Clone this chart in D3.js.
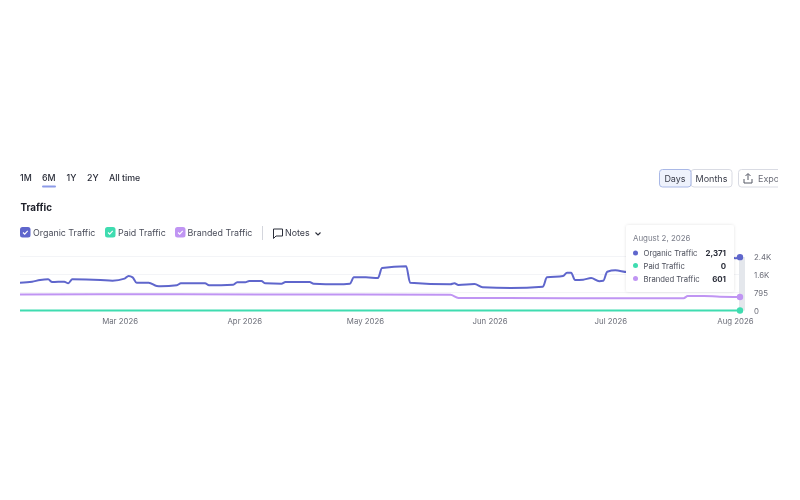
<!DOCTYPE html>
<html>
<head>
<meta charset="utf-8">
<script src="https://cdn.jsdelivr.net/npm/d3@7"></script>
<style>
  body { margin: 0; background: #fff; }
  svg { display: block; font-family: Inter, "Noto Sans", sans-serif; filter: blur(0.5px); }
  .axis .domain, .axis line { display: none; }
  .axis text { fill: #6c6e79; font-size: 7.8px; font-family: Inter, "Noto Sans", sans-serif; }
</style>
</head>
<body>
<div id="my_dataviz"></div>
<script>
// values
var organicDates = ["2026-02-04","2026-02-07","2026-02-09","2026-02-11","2026-02-12","2026-02-15","2026-02-16","2026-02-17",
  "2026-02-24","2026-02-27","2026-03-02","2026-03-03","2026-03-04","2026-03-05","2026-03-08","2026-03-10","2026-03-11",
  "2026-03-15","2026-03-16","2026-03-22","2026-03-23","2026-03-29","2026-03-30","2026-04-01","2026-04-02","2026-04-05",
  "2026-04-06","2026-04-10","2026-04-11","2026-04-17","2026-04-18","2026-04-24","2026-04-27","2026-04-28","2026-05-01",
  "2026-05-04","2026-05-05","2026-05-11","2026-05-12","2026-05-22","2026-05-23","2026-05-24","2026-05-28","2026-05-30",
  "2026-06-06","2026-06-14","2026-06-15","2026-06-19","2026-06-20","2026-06-21","2026-06-22","2026-06-24","2026-06-26",
  "2026-06-28","2026-06-29","2026-06-30","2026-07-02","2026-07-05","2026-07-10","2026-07-20","2026-07-28","2026-07-31",
  "2026-08-01","2026-08-02"];
var organicValues = [1235,1280,1355,1385,1265,1280,1210,1385,
  1355,1325,1415,1535,1475,1235,1235,1090,1075,
  1120,1210,1210,1120,1145,1255,1255,1310,1310,
  1210,1190,1265,1265,1190,1165,1190,1475,1475,
  1445,1890,1965,1235,1165,1210,1133,1175,1030,
  1000,1058,1475,1535,1680,1680,1355,1370,1445,
  1300,1320,1725,1785,1710,1720,1780,1850,2340,
  2320,2371];
var brandedDates = ["2026-02-04","2026-03-15","2026-04-20","2026-05-22","2026-05-24","2026-06-20","2026-07-19","2026-07-20","2026-07-24","2026-07-28","2026-08-02"];
var brandedValues = [715,720,711,700,560,545,550,640,650,610,601];
var paidDates = ["2026-02-04","2026-03-01","2026-05-01","2026-07-01","2026-08-02"];
var paidValues = [0,0,0,0,0];
var monthTicks = ["2026-03-01","2026-04-01","2026-05-01","2026-06-01","2026-07-01","2026-08-01"];
var yTicks = [0,795,1600,2400];
var yTickLabels = ["0","795","1.6K","2.4K"];
var ranges = ["1M","6M","1Y","2Y","All time"];
var seriesNames = ["Organic Traffic","Paid Traffic","Branded Traffic"];
var seriesColors = ["#5f66cc","#3fdcb0","#c095f3"];
var tooltipDate = "August 2, 2026";
var tooltipValues = ["2,371","0","601"];

var parseDate = d3.timeParse("%Y-%m-%d");
function toPoints(dates, values) {
  return dates.map(function(d, i) { return {date: parseDate(d), value: values[i]}; });
}

var svg = d3.select("#my_dataviz")
  .append("svg")
    .attr("width", 800)
    .attr("height", 500);

// everything stops at x=778, the export button is cut off there
svg.append("clipPath").attr("id", "page")
  .append("rect").attr("x", 0).attr("y", 0).attr("width", 778).attr("height", 500);
var page = svg.append("g").attr("clip-path", "url(#page)");

// scales
var x = d3.scaleTime()
  .domain([parseDate("2026-02-04"), parseDate("2026-08-02")])
  .range([20, 740]);
var y = d3.scaleLinear()
  .domain([0, 2400])
  .range([310.5, 256.5]);

// range selector
var rangeX = [20, 42, 66.5, 87, 109];
page.selectAll("text.range")
  .data(ranges)
  .enter()
  .append("text")
    .attr("class", "range")
    .attr("x", function(d, i) { return rangeX[i]; })
    .attr("y", 180.5)
    .style("font-size", "8.8px")
    .style("font-weight", 500)
    .attr("fill", "#2b2e3a")
    .text(function(d) { return d; });
page.append("rect")
  .attr("x", 42).attr("y", 185.5).attr("width", 14).attr("height", 2).attr("rx", 1)
  .attr("fill", "#8d9be8");

page.append("text")
  .attr("x", 20.5).attr("y", 211)
  .style("font-size", "9.8px")
  .style("font-weight", 700)
  .attr("fill", "#20222c")
  .text("Traffic");

// Days / Months / Export buttons
page.append("rect")
  .attr("x", 691).attr("y", 169.5).attr("width", 41).attr("height", 17.5).attr("rx", 3)
  .attr("fill", "#fff").attr("stroke", "#d9dbe3");
page.append("rect")
  .attr("x", 659.5).attr("y", 169.5).attr("width", 31.5).attr("height", 17.5).attr("rx", 3)
  .attr("fill", "#eef2fc").attr("stroke", "#a9b8e6");
page.append("rect")
  .attr("x", 738.5).attr("y", 169.5).attr("width", 60).attr("height", 17.5).attr("rx", 3)
  .attr("fill", "#fff").attr("stroke", "#d9dbe3");
page.append("text").attr("x", 675).attr("y", 181.5).attr("text-anchor", "middle")
  .style("font-size", "9px").attr("fill", "#3a3d4a").text("Days");
page.append("text").attr("x", 711.5).attr("y", 181.5).attr("text-anchor", "middle")
  .style("font-size", "9px").attr("fill", "#3a3d4a").text("Months");
page.append("text").attr("x", 758).attr("y", 181.5)
  .style("font-size", "9px").attr("fill", "#6c6e79").text("Export");
page.append("path")
  .attr("d", "M748 180V174M745.5 176L748 173.5L750.5 176M744 179V183H752V179")
  .attr("fill", "none").attr("stroke", "#555865").attr("stroke-width", 1);

// legend
var legendBox = [20, 105, 175];
var legendText = [33, 118, 187.5];
var legend = page.selectAll("g.legend")
  .data(seriesNames)
  .enter()
  .append("g")
    .attr("class", "legend");
legend.append("rect")
  .attr("x", function(d, i) { return legendBox[i]; })
  .attr("y", 227)
  .attr("width", 10.5)
  .attr("height", 10.5)
  .attr("rx", 2.5)
  .attr("fill", function(d, i) { return seriesColors[i]; });
legend.append("path")
  .attr("d", function(d, i) {
    var b = legendBox[i];
    return "M" + (b + 3) + " 232.5L" + (b + 4.7) + " 234.2L" + (b + 7.7) + " 230.8";
  })
  .attr("fill", "none")
  .attr("stroke", "#fff")
  .attr("stroke-width", 1.1);
legend.append("text")
  .attr("x", function(d, i) { return legendText[i]; })
  .attr("y", 235.5)
  .style("font-size", "8.9px")
  .attr("fill", "#4a4d5a")
  .text(function(d) { return d; });

page.append("line")
  .attr("x1", 262.5).attr("x2", 262.5).attr("y1", 226).attr("y2", 240)
  .attr("stroke", "#d4d6dd");
page.append("path")
  .attr("d", "M273.5 229H282.5V236H276L273.5 238.5Z")
  .attr("fill", "none").attr("stroke", "#2b2e3a").attr("stroke-width", 1);
page.append("text").attr("x", 285).attr("y", 235.5)
  .style("font-size", "8.9px").attr("fill", "#3a3d4a").text("Notes");
page.append("path")
  .attr("d", "M315.5 232.5L318 235L320.5 232.5")
  .attr("fill", "none").attr("stroke", "#2b2e3a").attr("stroke-width", 1.1);

// grid
page.selectAll("line.grid")
  .data(yTicks.slice(1))
  .enter()
  .append("line")
    .attr("class", "grid")
    .attr("x1", 20)
    .attr("x2", 740)
    .attr("y1", function(d) { return y(d); })
    .attr("y2", function(d) { return y(d); })
    .attr("stroke", "#f3f4f7");

// axes
page.append("g")
  .attr("class", "axis")
  .attr("transform", "translate(-1,311)")
  .call(d3.axisBottom(x)
    .tickValues(monthTicks.map(parseDate))
    .tickSize(0)
    .tickPadding(7)
    .tickFormat(d3.timeFormat("%b %Y")));
page.append("g")
  .attr("class", "axis")
  .attr("transform", "translate(754,0)")
  .call(d3.axisRight(y)
    .tickValues(yTicks)
    .tickSize(0)
    .tickPadding(0)
    .tickFormat(function(d, i) { return yTickLabels[i]; }));

// hover band at the last day
page.append("rect")
  .attr("x", x(parseDate("2026-08-02")) - 1)
  .attr("y", y(2371))
  .attr("width", 6)
  .attr("height", y(0) - y(2371))
  .attr("fill", "#e4e7ec");

// lines
var line = d3.line()
  .x(function(d) { return x(d.date); })
  .y(function(d) { return y(d.value); })
  .curve(d3.curveMonotoneX);

var series = [toPoints(organicDates, organicValues), toPoints(paidDates, paidValues), toPoints(brandedDates, brandedValues)];

page.selectAll("path.series")
  .data(series)
  .enter()
  .append("path")
    .attr("class", "series")
    .attr("fill", "none")
    .attr("stroke", function(d, i) { return seriesColors[i]; })
    .attr("stroke-width", 2)
    .attr("d", line);

page.selectAll("circle.end")
  .data(series)
  .enter()
  .append("circle")
    .attr("class", "end")
    .attr("cx", function(d) { return x(d[d.length - 1].date); })
    .attr("cy", function(d) { return y(d[d.length - 1].value); })
    .attr("r", 3.2)
    .attr("fill", function(d, i) { return seriesColors[i]; });

// tooltip
var shadow = svg.append("filter").attr("id", "tipShadow")
  .attr("x", "-10%").attr("y", "-10%").attr("width", "120%").attr("height", "120%");
shadow.append("feDropShadow")
  .attr("dx", 0).attr("dy", 0).attr("stdDeviation", 1.5)
  .attr("flood-color", "#000").attr("flood-opacity", 0.12);

var tip = page.append("g");
tip.append("rect")
  .attr("x", 626).attr("y", 225).attr("width", 108).attr("height", 67).attr("rx", 3)
  .attr("fill", "#fff")
  .attr("filter", "url(#tipShadow)");
tip.append("text").attr("x", 633).attr("y", 240.5)
  .style("font-size", "7.9px").attr("fill", "#7b7e8a").text(tooltipDate);

var rowY = [253, 265.5, 278.5];
var row = tip.selectAll("g.row")
  .data(seriesNames)
  .enter()
  .append("g")
    .attr("class", "row");
row.append("circle")
  .attr("cx", 635.5)
  .attr("cy", function(d, i) { return rowY[i]; })
  .attr("r", 2.5)
  .attr("fill", function(d, i) { return seriesColors[i]; });
row.append("text")
  .attr("x", 643.5)
  .attr("y", function(d, i) { return rowY[i] + 3; })
  .style("font-size", "7.7px")
  .attr("fill", "#4a4d5a")
  .text(function(d) { return d; });
row.append("text")
  .attr("x", 726)
  .attr("y", function(d, i) { return rowY[i] + 3; })
  .attr("text-anchor", "end")
  .style("font-size", "7.9px")
  .style("font-weight", 700)
  .attr("fill", "#2b2e3a")
  .text(function(d, i) { return tooltipValues[i]; });
</script>
</body>
</html>
